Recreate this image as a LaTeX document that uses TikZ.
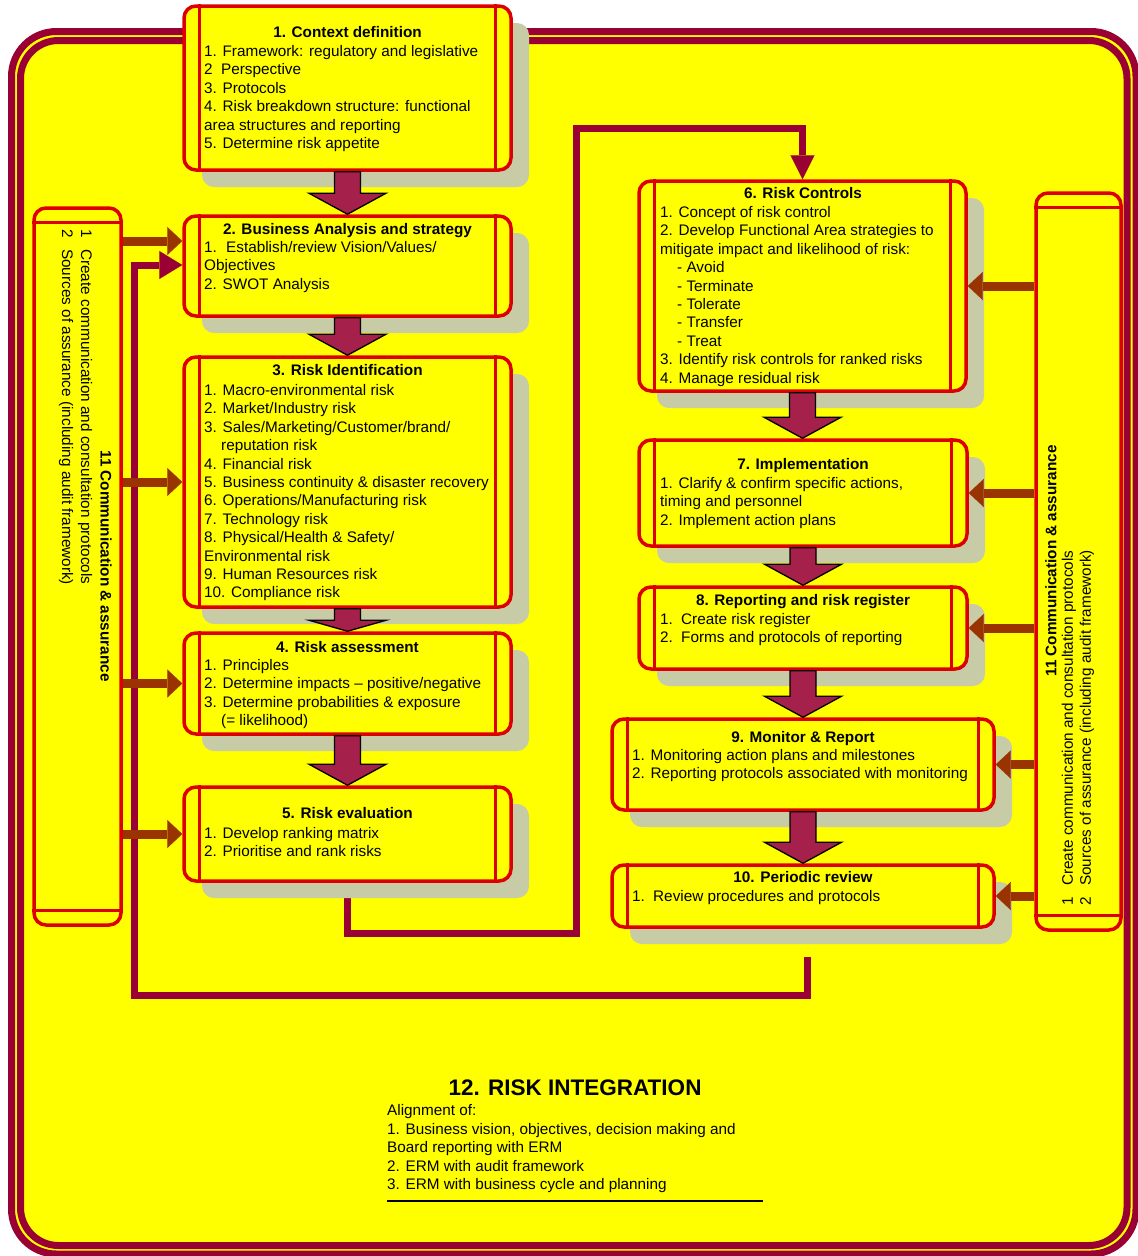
\documentclass[tikz,border=0pt]{standalone}
\usepackage{fontspec}
\setmainfont{Liberation Sans}
\usetikzlibrary{shadows,arrows.meta,calc}
\pgfdeclarelayer{bottom}
\pgfdeclarelayer{back}
\pgfsetlayers{bottom,back,main}
\definecolor{yel}{RGB}{255,255,0}
\definecolor{frmred}{RGB}{153,0,51}
\definecolor{boxred}{RGB}{220,0,0}
\definecolor{shade}{RGB}{199,203,166}
\definecolor{brownarr}{RGB}{153,51,0}
\definecolor{blockfill}{RGB}{165,32,74}
\newcommand\blockarrow[3][21pt]{%
  \filldraw[blockarr] let \p1=(#2.south), \p2=(#3.north) in
  (\x1-13pt,\y1) -- (\x1-13pt,\y2+#1) -- (\x1-38.5pt,\y2+#1) -- (\x1,\y2)
  -- (\x1+38.5pt,\y2+#1) -- (\x1+13pt,\y2+#1) -- (\x1+13pt,\y1) -- cycle;}
\begin{document}
\begin{tikzpicture}[x=1pt,y=-1pt,
  procbox/.style={draw=boxred, line width=3.5pt, fill=yel, rounded corners=12pt, inner sep=0pt,
     drop shadow={shadow xshift=18pt, shadow yshift=-17pt, fill=shade, opacity=1}},
  sidebox/.style={draw=boxred, line width=3.5pt, fill=yel, rounded corners=12pt, inner sep=0pt},
  innerline/.style={draw=boxred, line width=3pt},
  fbline/.style={draw=frmred, line width=7pt},
  sidearr/.style={draw=brownarr, line width=9pt, -{Triangle[width=28pt,length=15pt,line width=0.1pt]}},
  blockarr/.style={fill=blockfill, draw=black, line width=1.3pt, line join=miter},
  txt/.style={font=\fontsize{15.3}{18.4}\selectfont, inner sep=0pt},
  ttl/.style={font=\fontsize{15.3}{18.4}\selectfont\bfseries, inner sep=0pt, anchor=base},
  lst/.style={txt, anchor=base west},
]
\useasboundingbox (0,0) rectangle (1138,1256);
\begin{pgfonlayer}{bottom}
\fill[white] (0,0) rectangle (1138,1256);
\fill[yel, rounded corners=45pt] (11.5,31.5) rectangle (1136,1254);
\draw[frmred, line width=7pt, rounded corners=45pt] (11.5,31.5) rectangle (1136,1254);
\draw[frmred, line width=7pt, rounded corners=38pt] (20.5,40.5) rectangle (1127,1245.5);
\end{pgfonlayer}

% process boxes
\node[procbox, minimum width=327pt, minimum height=164pt] (b1) at (347.5,88) {};
\node[procbox, minimum width=327pt, minimum height=100pt] (b2) at (347.5,266) {};
\node[procbox, minimum width=327pt, minimum height=250pt] (b3) at (347.5,482) {};
\node[procbox, minimum width=327pt, minimum height=101pt] (b4) at (347.5,683.5) {};
\node[procbox, minimum width=327pt, minimum height=94pt] (b5) at (347.5,834) {};
\node[procbox, minimum width=327pt, minimum height=210pt] (b6) at (802.5,286) {};
\node[procbox, minimum width=328pt, minimum height=106pt] (b7) at (803,493) {};
\node[procbox, minimum width=328pt, minimum height=82pt] (b8) at (803,628) {};
\node[procbox, minimum width=382pt, minimum height=91pt] (b9) at (803,764.5) {};
\node[procbox, minimum width=382pt, minimum height=62pt] (b10) at (803,896) {};
\foreach \n in {b1,b2,b3,b4,b5,b6,b7,b8,b9,b10}{
  \draw[innerline] ([xshift=17pt]\n.north west) -- ([xshift=17pt]\n.south west);
  \draw[innerline] ([xshift=-17pt]\n.north east) -- ([xshift=-17pt]\n.south east);
}
% side panels
\node[sidebox, minimum width=87pt, minimum height=717pt] (lp) at (77.5,566.5) {};
\node[sidebox, minimum width=85pt, minimum height=737pt] (rp) at (1078.5,561.5) {};
\foreach \n in {lp,rp}{
  \draw[innerline] ([yshift=-16pt]\n.north west) -- ([yshift=-16pt]\n.north east);
  \draw[innerline] ([yshift=16pt]\n.south west) -- ([yshift=16pt]\n.south east);
}

% feedback lines (behind the boxes)
\begin{pgfonlayer}{back}
\coordinate (fa1) at (576,933);
\coordinate (fa2) at (576,128);
\draw[fbline, -{Triangle[width=24pt,length=24pt,line width=0.1pt]}] (b5.south) |- (fa1) -- (fa2) -| (b6.north);
\coordinate (fb1) at ([xshift=4pt,yshift=-28pt]b10.south);
\coordinate (fb2) at (134,995);
\coordinate (b2w) at ([yshift=1pt]b2.west);
\draw[fbline, -{Triangle[width=28pt,length=23pt,line width=0.1pt]}] (fb1) |- (fb2) |- (b2w);
\end{pgfonlayer}

% block arrows
\blockarrow{b1}{b2}
\blockarrow{b2}{b3}
\blockarrow[11pt]{b3}{b4}
\blockarrow{b4}{b5}
\blockarrow{b6}{b7}
\blockarrow{b7}{b8}
\blockarrow{b8}{b9}
\blockarrow{b9}{b10}

% side arrows
\coordinate (la2) at ([yshift=25pt]b2.west);
\draw[sidearr] (lp.east |- la2) -- (la2);
\draw[sidearr] (lp.east |- b3.west) -- (b3.west);
\draw[sidearr] (lp.east |- b4.west) -- (b4.west);
\draw[sidearr] (lp.east |- b5.west) -- (b5.west);
\foreach \n in {b6,b7,b8,b9,b10}{
  \draw[sidearr] (rp.west |- \n.east) -- (\n.east);
}

% titles
\node[ttl] (b1t) at (347.5,37.5) {1. Context definition};
\node[ttl] (b2t) at (347.5,234.5) {2. Business Analysis and strategy};
\node[ttl] (b3t) at (347.5,375.5) {3. Risk Identification};
\node[ttl] (b4t) at (347.5,652.5) {4. Risk assessment};
\node[ttl] (b5t) at (347.5,818.5) {5. Risk evaluation};
\node[ttl] (b6t) at (803,198.5) {6. Risk Controls};
\node[ttl] (b7t) at (803,469.5) {7. Implementation};
\node[ttl] (b8t) at (803,605.5) {8. Reporting and risk register};
\node[ttl] (b9t) at (803,742.5) {9. Monitor \& Report};
\node[ttl] (b10t) at (803,882.5) {10. Periodic review};

% lists
\node[lst] (b1l) at (204,56.5) {\begin{tabular}[t]{@{}l@{}}
1. Framework: regulatory and legislative\\
\makebox[17pt][l]{2}Perspective\\
3. Protocols\\
4. Risk breakdown structure: functional\\
area structures and reporting\\
5. Determine risk appetite\end{tabular}};
\node[lst] (b2l) at (204,252.5) {\begin{tabular}[t]{@{}l@{}}
\makebox[22pt][l]{1.}Establish/review Vision/Values/\\
Objectives\\
2. SWOT Analysis\end{tabular}};
\node[lst] (b3l) at (204,395.5) {\begin{tabular}[t]{@{}l@{}}
1. Macro-environmental risk\\
2. Market/Industry risk\\
3. Sales/Marketing/Customer/brand/\\
\hspace*{17pt}reputation risk\\
4. Financial risk\\
5. Business continuity \& disaster recovery\\
6. Operations/Manufacturing risk\\
7. Technology risk\\
8. Physical/Health \& Safety/\\
Environmental risk\\
9. Human Resources risk\\
10. Compliance risk\end{tabular}};
\node[lst] (b4l) at (204,670.5) {\begin{tabular}[t]{@{}l@{}}
1. Principles\\
2. Determine impacts – positive/negative\\
3. Determine probabilities \& exposure\\
\hspace*{17pt}(= likelihood)\end{tabular}};
\node[lst] (b5l) at (204,838.5) {\begin{tabular}[t]{@{}l@{}}
1. Develop ranking matrix\\
2. Prioritise and rank risks\end{tabular}};
\node[lst] (b6l) at (660,217.5) {\begin{tabular}[t]{@{}l@{}}
1. Concept of risk control\\
2. Develop Functional Area strategies to\\
mitigate impact and likelihood of risk:\\
\hspace*{17pt}- Avoid\\
\hspace*{17pt}- Terminate\\
\hspace*{17pt}- Tolerate\\
\hspace*{17pt}- Transfer\\
\hspace*{17pt}- Treat\\
3. Identify risk controls for ranked risks\\
4. Manage residual risk\end{tabular}};
\node[lst] (b7l) at (660,488.5) {\begin{tabular}[t]{@{}l@{}}
1. Clarify \& confirm specific actions,\\
timing and personnel\\
2. Implement action plans\end{tabular}};
\node[lst] (b8l) at (660,624.5) {\begin{tabular}[t]{@{}l@{}}
\makebox[21pt][l]{1.}Create risk register\\
\makebox[21pt][l]{2.}Forms and protocols of reporting\end{tabular}};
\node[lst] (b9l) at (632,760.5) {\begin{tabular}[t]{@{}l@{}}
1. Monitoring action plans and milestones\\
2. Reporting protocols associated with monitoring\end{tabular}};
\node[lst] (b10l) at (632,901.5) {\begin{tabular}[t]{@{}l@{}}
\makebox[21pt][l]{1.}Review procedures and protocols\end{tabular}};

% side panel texts
\node[ttl, anchor=center, rotate=-90] (lpt) at (106,566) {11 Communication \& assurance};
\node[txt, rotate=-90, anchor=west] (lp1) at (85,229) {\makebox[20pt][l]{1}Create communication and consultation protocols};
\node[txt, rotate=-90, anchor=west] (lp2) at (66,229) {\makebox[20pt][l]{2}Sources of assurance (including audit framework)};
\node[ttl, anchor=center, rotate=90] (rpt) at (1051,561) {11 Communication \& assurance};
\node[txt, rotate=90, anchor=west] (rp1) at (1069,906) {\makebox[20pt][l]{1}Create communication and consultation protocols};
\node[txt, rotate=90, anchor=west] (rp2) at (1087,906) {\makebox[20pt][l]{2}Sources of assurance (including audit framework)};

% risk integration
\node[font=\fontsize{22.5}{27}\selectfont\bfseries, inner sep=0pt, anchor=base] (rit) at (575,1095) {12. RISK INTEGRATION};
\node[font=\fontsize{15.3}{18.5}\selectfont, inner sep=0pt, anchor=base west] (ril) at (387,1115.5) {\begin{tabular}[t]{@{}l@{}}
Alignment of:\\
1. Business vision, objectives, decision making and\\
Board reporting with ERM\\
2. ERM with audit framework\\
3. ERM with business cycle and planning\end{tabular}};
\coordinate (r1) at (387,1201);
\coordinate (r2) at (763,1201);
\draw[line width=1.2pt] (r1) -- (r2);
\end{tikzpicture}
\end{document}
